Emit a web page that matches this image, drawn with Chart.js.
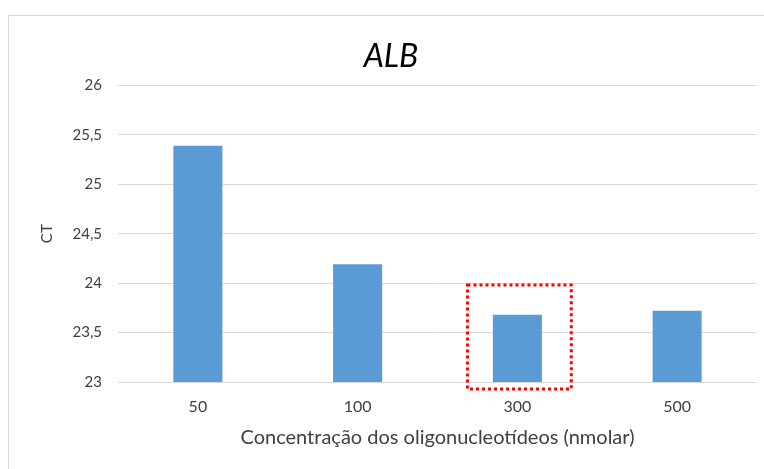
<!DOCTYPE html>
<html>
<head>
<meta charset="utf-8">
<script src="https://cdn.jsdelivr.net/npm/chart.js@4.4.1/dist/chart.umd.min.js"></script>
<style>
  html, body { margin: 0; padding: 0; background: #ffffff; overflow: hidden; }
  #wrap { position: relative; width: 764px; height: 469px; }
  #frame { position: absolute; left: 8px; top: 15px; width: 800px; height: 500px; border: 1px solid #d9d9d9; box-sizing: border-box; }
  #c { position: absolute; left: 0; top: 0; }
</style>
</head>
<body>
<div id="wrap">
  <div id="frame"></div>
  <canvas id="c" width="764" height="469"></canvas>
</div>
<script>
// ---- data ----
const categories = ['50', '100', '300', '500'];
const ctValues = [25.39, 24.19, 23.68, 23.72];
const yTicks = [23, 23.5, 24, 24.5, 25, 25.5, 26];
const chartTitle = 'ALB';
const xTitle = 'Concentração dos oligonucleotídeos (nmolar)';
const yTitle = 'CT';
const highlightIndex = [2];        // category highlighted by the red dotted box
const highlightTopValue = [23.98]; // top of the highlight box, in CT units

const FONT = 'Lato, "Open Sans", sans-serif';

const highlightPlugin = {
  id: 'highlightBox',
  afterDatasetsDraw(chart) {
    const x = chart.scales.x, y = chart.scales.y;
    const ctx = chart.ctx;
    const catW = x.getPixelForValue(1) - x.getPixelForValue(0);
    highlightIndex.forEach((idx, i) => {
      const cx = x.getPixelForValue(idx) + 2;
      const half = catW * 0.325;
      const top = y.getPixelForValue(highlightTopValue[i]);
      const bottom = y.getPixelForValue(yTicks[0]) + 7;
      ctx.save();
      ctx.strokeStyle = '#ff0000';
      ctx.lineWidth = 3;
      ctx.setLineDash([3, 3]);
      ctx.strokeRect(cx - half, top, half * 2, bottom - top);
      ctx.restore();
    });
  }
};

new Chart(document.getElementById('c'), {
  type: 'bar',
  data: {
    labels: categories,
    datasets: [{
      data: ctValues,
      backgroundColor: '#5b9bd5',
      borderWidth: 0,
      barPercentage: 0.307,
      categoryPercentage: 1.0
    }]
  },
  options: {
    responsive: false,
    animation: false,
    devicePixelRatio: 1,
    layout: { padding: { left: 25, right: 7, top: 0, bottom: 0 } },
    plugins: {
      legend: { display: false },
      tooltip: { enabled: false },
      title: {
        display: true,
        text: chartTitle,
        color: '#000000',
        font: { family: FONT, size: 32, style: 'italic', weight: 'normal' },
        padding: { top: 37, bottom: 10 }
      }
    },
    scales: {
      x: {
        grid: { display: false, drawTicks: false },
        border: { display: false },
        ticks: { color: '#404040', font: { family: FONT, size: 16 }, padding: 15 },
        title: {
          display: true, text: xTitle, color: '#404040',
          font: { family: FONT, size: 20 },
          padding: { top: 0, bottom: 19 }
        },
        afterFit(scale) { scale.height = 87; }
      },
      y: {
        min: yTicks[0],
        max: yTicks[yTicks.length - 1],
        afterBuildTicks(scale) { scale.ticks = yTicks.map(v => ({ value: v })); },
        grid: { color: '#d9d9d9', drawTicks: false, lineWidth: 1 },
        border: { display: false },
        ticks: {
          color: '#404040', font: { family: FONT, size: 15 }, padding: 16,
          callback: (v) => String(v).replace('.', ',')
        },
        title: {
          display: true, text: yTitle, color: '#404040',
          font: { family: FONT, size: 15 },
          padding: { top: 13, bottom: 0 }
        },
        afterFit(scale) { scale.width = 93; }
      }
    }
  },
  plugins: [highlightPlugin]
});
</script>
</body>
</html>
